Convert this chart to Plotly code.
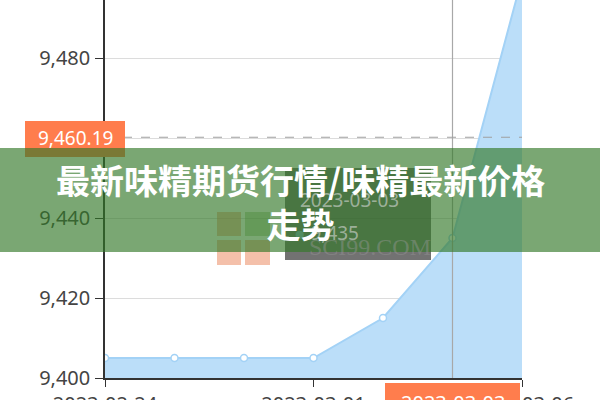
import plotly.graph_objects as go

# price series (trading days)
dates = ["2023-02-24", "2023-02-27", "2023-02-28", "2023-03-01",
         "2023-03-02", "2023-03-03", "2023-03-06"]
prices = [9405, 9405, 9405, 9405, 9415, 9435, 9500]

y_ticks = [9400, 9420, 9440, 9460, 9480, 9500]
x_ticks = ["2023-02-24", "2023-03-01", "2023-03-06"]
ref_price = 9460.19
hover_date = "2023-03-03"
hover_price = 9435
title = "最新味精期货行情/味精最新价格<br>走势"

W, H = 600, 400
L, R, T, B = 105, 78, 0, 22
PW, PH = W - L - R, H - T - B


# pixel -> paper helpers for the overlay decorations
def px(x):
    return (x - L) / PW


def py(y):
    return (H - B - y) / PH


fig = go.Figure()
fig.add_trace(
    go.Scatter(
        x=dates,
        y=prices,
        mode="lines+markers",
        fill="tozeroy",
        fillcolor="#BBDEF9",
        line=dict(color="#A3D2F6", width=2),
        marker=dict(size=7, color="white", line=dict(color="#A3D2F6", width=1.5)),
        showlegend=False,
    )
)

shapes = [
    # crosshair
    dict(type="line", xref="x", yref="paper", x0=hover_date, x1=hover_date,
         y0=0, y1=1, line=dict(color="#A8A8A8", width=1.2)),
    # reference price dashed line
    dict(type="line", xref="paper", yref="y", x0=0, x1=1, y0=ref_price, y1=ref_price,
         line=dict(color="#A0A0A0", width=1.2, dash="dash")),
    # orange y label box
    dict(type="rect", xref="paper", yref="paper", x0=px(25), x1=px(125),
         y0=py(157), y1=py(121), fillcolor="#FF7D4D", line=dict(width=0)),
    # orange x label box
    dict(type="rect", xref="paper", yref="paper", x0=px(385), x1=px(520),
         y0=py(410), y1=py(383), fillcolor="#FF7D4D", line=dict(width=0)),
    # watermark logo squares
    dict(type="rect", xref="paper", yref="paper", x0=px(217), x1=px(241),
         y0=py(236), y1=py(212), fillcolor="rgba(235,140,100,0.55)", line=dict(width=0)),
    dict(type="rect", xref="paper", yref="paper", x0=px(245), x1=px(270),
         y0=py(236), y1=py(212), fillcolor="rgba(120,170,90,0.45)", line=dict(width=0)),
    dict(type="rect", xref="paper", yref="paper", x0=px(217), x1=px(241),
         y0=py(265), y1=py(240), fillcolor="rgba(235,140,100,0.55)", line=dict(width=0)),
    dict(type="rect", xref="paper", yref="paper", x0=px(245), x1=px(270),
         y0=py(265), y1=py(240), fillcolor="rgba(235,140,100,0.55)", line=dict(width=0)),
    # tooltip box
    dict(type="rect", xref="paper", yref="paper", x0=px(285), x1=px(431),
         y0=py(260), y1=py(168), fillcolor="rgba(60,60,60,0.72)",
         line=dict(width=0)),
    # green title band
    dict(type="rect", xref="paper", yref="paper", x0=px(0), x1=px(600),
         y0=py(252), y1=py(148), fillcolor="rgba(50,120,40,0.65)", line=dict(width=0)),
]

annotations = [
    dict(x=px(75), y=py(138), xref="paper", yref="paper", text=f"{ref_price:,.2f}",
         xanchor="center", showarrow=False,
         font=dict(size=19, color="white", family="Noto Sans")),
    dict(x=px(453), y=py(403), xref="paper", yref="paper", text=hover_date,
         xanchor="center", yanchor="middle", showarrow=False,
         font=dict(size=20, color="white", family="Noto Sans")),
    dict(x=px(298), y=py(200), xref="paper", yref="paper", text=hover_date,
         xanchor="left", showarrow=False,
         font=dict(size=19, color="rgba(205,210,205,0.65)", family="Noto Sans")),
    dict(x=px(292), y=py(233), xref="paper", yref="paper",
         text=f"<span style='color:rgba(90,170,140,0.7)'>●</span> {hover_price:,}",
         xanchor="left", showarrow=False,
         font=dict(size=19, color="rgba(205,210,205,0.65)", family="Noto Sans")),
    dict(x=px(370), y=py(262), xref="paper", yref="paper", text="SCI99.COM",
         xanchor="center", showarrow=False,
         font=dict(size=24, color="rgba(150,150,150,0.45)", family="Liberation Serif")),
    dict(x=px(300), y=py(201), xref="paper", yref="paper", text=title,
         xanchor="center", showarrow=False,
         font=dict(size=34, color="white", family="Noto Sans CJK SC", weight="bold")),
]

fig.update_layout(
    width=W,
    height=H,
    margin=dict(l=L, r=R, t=T, b=B),
    paper_bgcolor="white",
    plot_bgcolor="white",
    shapes=shapes,
    annotations=annotations,
    font=dict(family="Noto Sans", color="#444"),
)
fig.update_xaxes(
    type="category",
    range=[0, 6],
    tickvals=x_ticks,
    ticktext=x_ticks,
    ticks="outside",
    ticklen=7,
    tickcolor="#333",
    showline=True,
    linecolor="#333",
    linewidth=1.5,
    showgrid=False,
    automargin=False,
    tickfont=dict(size=20, color="#444"),
    ticklabelstandoff=0,
)
fig.update_yaxes(
    range=[9400, 9494.5],
    tickvals=y_ticks,
    tickformat=",d",
    ticks="outside",
    ticklen=8,
    tickcolor="#333",
    showline=True,
    linecolor="#333",
    linewidth=1.5,
    showgrid=True,
    gridcolor="#DCDCDC",
    zeroline=False,
    automargin=False,
    tickfont=dict(size=20, color="#444"),
    ticklabelstandoff=1,
)

# the page body adds an 8px margin; drop it so the figure sits at the corner
fig.write_html(
    "out.html",
    config={"displayModeBar": False},
    post_script="document.body.style.margin='0';",
)
